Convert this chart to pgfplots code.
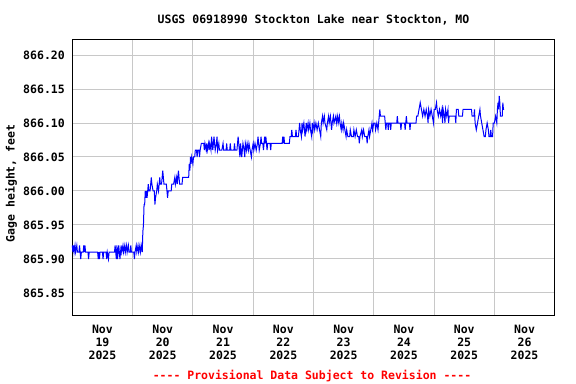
\documentclass[border=0pt]{standalone}
\usepackage{fontspec}
\setmainfont[Ligatures=TeXOff]{DejaVu Sans Mono}
\usepackage{pgfplots}
\pgfplotsset{compat=1.18}
\definecolor{gridgray}{RGB}{200,200,200}
\newcommand{\chartfont}{\fontsize{11.5bp}{13bp}\selectfont\bfseries}
\begin{document}
\begin{tikzpicture}
\path[use as bounding box] (-72.3bp,-68.3bp) rectangle (503.7bp,315.7bp);
\begin{axis}[
  at={(0,0)}, anchor=south west,
  scale only axis, width=482.4bp, height=276.4bp,
  xmin=0, xmax=8, ymin=865.8166, ymax=866.2231,
  xtick={0.5,1.5,2.5,3.5,4.5,5.5,6.5,7.5},
  xticklabels={Nov\\19\\2025,Nov\\20\\2025,Nov\\21\\2025,Nov\\22\\2025,Nov\\23\\2025,Nov\\24\\2025,Nov\\25\\2025,Nov\\26\\2025},
  minor xtick={1,2,3,4,5,6,7},
  xminorgrids=true, xmajorgrids=false,
  ytick={865.85,865.90,865.95,866.00,866.05,866.10,866.15,866.20},
  ymajorgrids=true,
  scaled y ticks=false,
  major tick length=0pt, minor tick length=0pt,
  grid style={gridgray, line width=1bp},
  minor grid style={gridgray, line width=1bp},
  axis line style={line width=1bp, black},
  tick label style={font=\chartfont},
  xticklabel style={align=center, yshift=-6bp},
  yticklabel style={xshift=-4bp, /pgf/number format/.cd, fixed, fixed zerofill, precision=2, assume math mode=true},
  every axis title/.style={at={(axis description cs:0.5,1)}, anchor=base, yshift=15.3bp, font=\chartfont},
  title={USGS 06918990 Stockton Lake near Stockton, MO},
  every axis y label/.style={at={(axis description cs:-0.1266,0.4785)}, anchor=center, rotate=90, font=\chartfont},
  ylabel={Gage height, feet},
  clip=false,
]
\addplot[color={rgb,255:red,0;green,0;blue,255}, line width=1bp] coordinates {
(0.000,865.92)(0.010,865.91)(0.020,865.92)(0.030,865.91)(0.045,865.92)(0.055,865.91)(0.075,865.92)(0.085,865.91)(0.110,865.91)(0.120,865.92)(0.130,865.91)(0.140,865.90)(0.150,865.91)(0.180,865.91)(0.190,865.92)(0.200,865.91)(0.210,865.92)(0.220,865.91)(0.260,865.91)(0.270,865.90)(0.280,865.91)(0.420,865.91)(0.430,865.90)(0.440,865.91)(0.450,865.90)(0.460,865.91)(0.500,865.91)(0.510,865.90)(0.520,865.91)(0.560,865.91)(0.570,865.90)(0.580,865.91)(0.600,865.90)(0.610,865.91)(0.700,865.91)(0.710,865.92)(0.720,865.91)(0.730,865.90)(0.740,865.92)(0.750,865.90)(0.760,865.91)(0.770,865.92)(0.780,865.91)(0.790,865.90)(0.800,865.91)(0.810,865.92)(0.820,865.91)(0.840,865.92)(0.850,865.91)(0.870,865.92)(0.880,865.91)(0.900,865.92)(0.910,865.91)(0.930,865.92)(0.940,865.91)(0.960,865.91)(0.970,865.92)(0.980,865.91)(1.020,865.91)(1.030,865.90)(1.040,865.91)(1.060,865.92)(1.070,865.91)(1.090,865.92)(1.100,865.91)(1.120,865.92)(1.130,865.91)(1.150,865.92)(1.160,865.91)
(1.170,865.94)(1.180,865.95)(1.190,865.98)(1.200,865.98)(1.210,866.00)(1.220,865.99)(1.230,866.00)(1.240,865.99)(1.250,866.00)(1.260,866.01)(1.270,866.00)(1.290,866.00)(1.300,866.01)(1.310,866.02)(1.320,866.01)(1.340,866.00)(1.360,866.00)(1.370,865.98)(1.380,865.99)(1.400,866.00)(1.410,866.01)(1.430,866.00)(1.450,866.02)(1.460,866.01)(1.480,866.01)(1.500,866.03)(1.510,866.02)(1.520,866.01)(1.540,866.01)(1.560,866.01)(1.580,865.99)(1.590,866.00)(1.640,866.00)(1.650,866.01)(1.680,866.01)(1.700,866.02)(1.710,866.01)(1.730,866.02)(1.740,866.01)(1.760,866.03)(1.770,866.02)(1.780,866.01)(1.820,866.01)(1.830,866.02)(1.930,866.02)(1.940,866.04)(1.950,866.03)(1.960,866.05)(1.970,866.04)(1.980,866.05)(2.000,866.04)(2.010,866.05)(2.030,866.05)(2.040,866.06)
(2.060,866.06)(2.070,866.05)(2.080,866.06)(2.100,866.06)(2.110,866.05)(2.120,866.06)(2.140,866.07)(2.180,866.07)(2.190,866.06)(2.200,866.07)(2.220,866.06)(2.230,866.07)(2.240,866.06)(2.260,866.07)(2.270,866.06)(2.280,866.07)(2.300,866.06)(2.310,866.08)(2.320,866.07)(2.330,866.06)(2.350,866.08)(2.360,866.07)(2.370,866.06)(2.390,866.07)(2.400,866.08)(2.410,866.06)(2.430,866.07)(2.440,866.06)(2.480,866.06)(2.500,866.07)(2.510,866.06)(2.550,866.06)(2.560,866.07)(2.570,866.06)(2.610,866.06)(2.620,866.07)(2.630,866.06)(2.680,866.06)(2.690,866.07)(2.700,866.06)(2.730,866.06)(2.740,866.07)(2.750,866.08)(2.760,866.07)(2.770,866.06)(2.780,866.05)(2.790,866.07)(2.800,866.06)(2.810,866.05)(2.820,866.06)(2.830,866.07)(2.850,866.06)(2.860,866.05)(2.870,866.07)(2.890,866.06)(2.900,866.07)(2.920,866.06)(2.930,866.07)(2.950,866.06)(2.970,866.05)(2.980,866.06)(3.000,866.07)(3.010,866.06)(3.030,866.07)(3.050,866.06)(3.070,866.07)(3.080,866.08)(3.090,866.07)(3.100,866.06)(3.120,866.07)(3.130,866.08)(3.140,866.07)(3.160,866.07)(3.170,866.06)(3.180,866.07)(3.190,866.08)(3.200,866.07)(3.210,866.08)(3.220,866.07)(3.230,866.06)(3.240,866.07)(3.280,866.07)(3.290,866.06)(3.300,866.07)(3.480,866.07)(3.490,866.08)(3.500,866.07)(3.510,866.08)(3.520,866.07)(3.600,866.07)(3.610,866.08)(3.630,866.08)(3.640,866.09)(3.650,866.08)(3.700,866.08)(3.710,866.09)(3.720,866.08)(3.750,866.08)(3.760,866.09)(3.770,866.10)(3.780,866.09)(3.800,866.08)(3.810,866.10)(3.820,866.09)(3.840,866.10)(3.850,866.09)(3.860,866.08)(3.880,866.10)(3.890,866.09)(3.910,866.10)(3.920,866.09)(3.940,866.10)(3.950,866.09)(3.970,866.08)(3.980,866.10)(3.990,866.09)(4.010,866.10)(4.020,866.09)(4.040,866.10)(4.060,866.09)(4.080,866.10)(4.100,866.09)
(4.120,866.08)(4.130,866.10)(4.150,866.11)(4.160,866.10)(4.180,866.11)(4.190,866.10)(4.220,866.09)(4.230,866.10)(4.250,866.11)(4.260,866.10)(4.280,866.11)(4.300,866.09)(4.310,866.10)(4.330,866.11)(4.340,866.10)(4.370,866.11)(4.380,866.10)(4.400,866.11)(4.410,866.10)(4.430,866.11)(4.440,866.10)(4.460,866.09)(4.470,866.10)(4.490,866.09)(4.500,866.10)(4.520,866.09)(4.540,866.08)(4.550,866.09)(4.570,866.08)(4.600,866.08)(4.610,866.09)(4.630,866.08)(4.660,866.08)(4.670,866.09)(4.690,866.08)(4.710,866.09)(4.730,866.08)(4.750,866.08)(4.760,866.07)(4.770,866.08)(4.800,866.09)(4.810,866.08)(4.830,866.09)(4.850,866.08)(4.880,866.08)(4.890,866.07)(4.900,866.08)(4.920,866.09)(4.930,866.08)(4.950,866.09)(4.970,866.10)(4.980,866.09)(5.000,866.10)(5.020,866.10)(5.030,866.09)(5.050,866.10)(5.070,866.09)(5.080,866.10)(5.090,866.11)(5.100,866.12)(5.110,866.11)(5.130,866.11)(5.180,866.11)(5.190,866.10)(5.200,866.09)(5.210,866.10)(5.230,866.10)(5.240,866.09)(5.250,866.10)(5.270,866.10)(5.280,866.09)(5.290,866.10)(5.380,866.10)(5.390,866.11)(5.400,866.10)(5.440,866.10)(5.450,866.09)(5.460,866.10)(5.510,866.10)(5.520,866.09)(5.530,866.10)(5.540,866.11)(5.550,866.10)(5.590,866.10)(5.600,866.09)(5.610,866.10)(5.700,866.10)(5.710,866.11)(5.730,866.11)(5.750,866.12)(5.770,866.13)(5.790,866.12)(5.810,866.11)(5.830,866.12)(5.850,866.11)(5.870,866.12)(5.890,866.11)(5.900,866.10)(5.910,866.12)(5.930,866.11)(5.950,866.12)(5.970,866.11)(5.990,866.10)(6.000,866.12)(6.020,866.12)(6.040,866.13)(6.050,866.12)(6.070,866.11)(6.090,866.12)
(6.110,866.11)(6.130,866.12)(6.140,866.10)(6.150,866.12)(6.170,866.11)(6.180,866.10)(6.190,866.12)(6.210,866.11)(6.230,866.12)(6.240,866.10)(6.250,866.11)(6.350,866.11)(6.360,866.10)(6.370,866.12)(6.400,866.12)(6.410,866.11)(6.470,866.11)(6.480,866.12)(6.620,866.12)(6.630,866.11)(6.660,866.11)(6.670,866.12)(6.680,866.10)(6.700,866.09)(6.720,866.10)(6.740,866.11)(6.760,866.12)(6.770,866.11)(6.790,866.10)(6.810,866.09)(6.830,866.08)(6.850,866.08)(6.860,866.09)(6.880,866.10)(6.900,866.09)(6.910,866.08)(6.930,866.08)(6.940,866.09)(6.950,866.08)(6.970,866.08)(6.980,866.10)(7.000,866.10)(7.020,866.11)(7.040,866.10)(7.050,866.12)(7.060,866.13)(7.070,866.12)(7.080,866.14)(7.090,866.13)(7.100,866.11)(7.130,866.11)(7.140,866.13)(7.150,866.12)(7.160,866.12)
};
\node[anchor=base, text=red, font=\chartfont] at (axis description cs:0.4969,0) [yshift=-63.3bp] {---- Provisional Data Subject to Revision ----};
\end{axis}
\end{tikzpicture}
\end{document}
